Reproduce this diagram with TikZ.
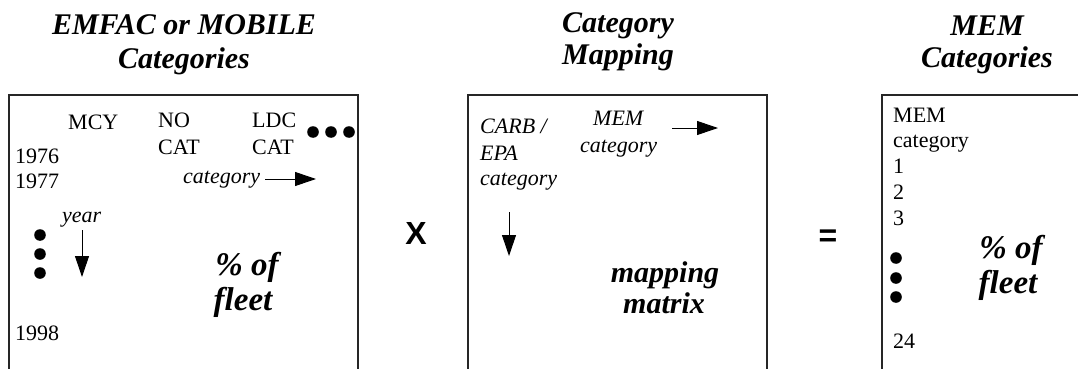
\documentclass[tikz,border=0pt]{standalone}
\usepackage{fontspec}
\setmainfont{Liberation Serif}
\newfontfamily\opsans{Liberation Sans}
\usetikzlibrary{arrows.meta}
\tikzset{
  lbl/.style={inner sep=0pt, anchor=base west, font=\fontsize{22}{25}\selectfont},
  ilbl/.style={lbl, font=\fontsize{22}{25}\selectfont\itshape},
  big/.style={inner sep=0pt, anchor=base, font=\fontsize{30}{35}\selectfont\bfseries\itshape},
  pct/.style={big, font=\fontsize{33}{35}\selectfont\bfseries\itshape},
  ttl/.style={inner sep=0pt, anchor=base, font=\fontsize{30}{33}\selectfont\bfseries\itshape},
  op/.style={inner sep=0pt, anchor=base, font=\fontsize{32}{34}\selectfont\opsans\bfseries},
  frame/.style={line width=2.2pt, draw=black!85},
  arr/.style={line width=1pt, -{Triangle[length=21pt,width=14pt]}},
  dot/.style={fill=black}
}
\begin{document}
\begin{tikzpicture}[x=1pt,y=-1pt]
\useasboundingbox (0,0) rectangle (1078,369);
% titles
\node[ttl] (t1a) at (184,35) {EMFAC or MOBILE};
\node[ttl] (t1b) at (184,68) {Categories};
\node[ttl] (t2a) at (618,33) {Category};
\node[ttl] (t2b) at (618,65) {Mapping};
\node[ttl] (t3a) at (987,36) {MEM};
\node[ttl] (t3b) at (987,67) {Categories};
% frames (open at the bottom)
\draw[frame] (9,375) -- (9,95) -- (358,95) -- (358,375);
\draw[frame] (468,375) -- (468,95) -- (767,95) -- (767,375);
\draw[frame] (882,375) -- (882,95) -- (1085,95);
% box 1
\node[lbl] (mcy) at (68,129) {MCY};
\node[lbl] (no) at (158,127) {NO};
\node[lbl] (nocat) at (158,154) {CAT};
\node[lbl] (ldc) at (252,127) {LDC};
\node[lbl] (ldccat) at (252,154) {CAT};
\node[lbl] (y76) at (15,163) {1976};
\node[lbl] (y77) at (15,188) {1977};
\node[lbl] (y98) at (15,340) {1998};
\node[ilbl] (cat1) at (183,183) {category};
\node[ilbl] (year) at (62,222) {year};
\coordinate (ca1) at (265,179);
\coordinate (ca2) at (316,179);
\draw[arr] (ca1) -- (ca2);
\coordinate (ya1) at (82,230);
\coordinate (ya2) at (82,277);
\draw[arr] (ya1) -- (ya2);
\foreach \x in {313,331,349} \fill[dot] (\x,132) circle (5.8pt);
\foreach \y in {235,254,273} \fill[dot] (40,\y) circle (5.8pt);
\node[pct] (pct1) at (247,275) {\% of};
\node[pct] (fl1) at (243,310) {fleet};
% box 2
\node[ilbl] (carb) at (480,133) {CARB /};
\node[ilbl] (epa) at (480,160) {EPA};
\node[ilbl] (cat2) at (480,185) {category};
\node[ilbl] (mem2) at (593,125) {MEM};
\node[ilbl] (cat3) at (580,152) {category};
\coordinate (ma1) at (672,128);
\coordinate (ma2) at (718,128);
\draw[arr] (ma1) -- (ma2);
\coordinate (da1) at (509,212);
\coordinate (da2) at (509,256);
\draw[arr] (da1) -- (da2);
\node[big] (mapp) at (665,282) {mapping};
\node[big] (matr) at (664,313) {matrix};
% operators
\node[op] (times) at (416,244) {X};
\node[op] (eq) at (828,246) {=};
% box 3
\node[lbl] (mem3) at (893,122) {MEM};
\node[lbl] (cat4) at (893,147) {category};
\node[lbl] (n1) at (893,173) {1};
\node[lbl] (n2) at (893,199) {2};
\node[lbl] (n3) at (893,225) {3};
\node[lbl] (n24) at (893,348) {24};
\foreach \y in {258,278,297} \fill[dot] (896,\y) circle (5.8pt);
\node[pct] (pct3) at (1011,258) {\% of};
\node[pct] (fl3) at (1008,293) {fleet};
\end{tikzpicture}
\end{document}
